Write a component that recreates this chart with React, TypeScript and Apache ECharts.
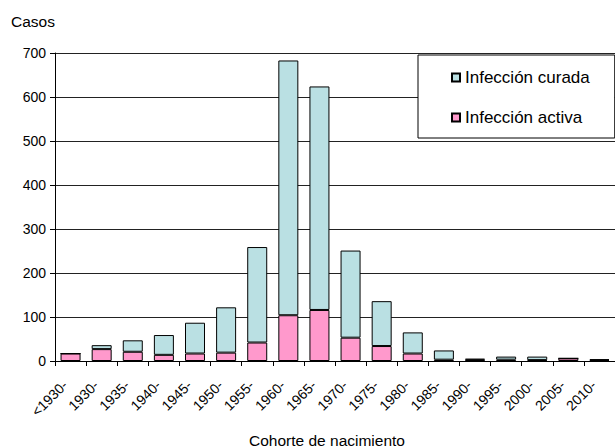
import React, { useEffect, useRef } from "react";
import * as echarts from "echarts";

const categories = ["<1930-", "1930-", "1935-", "1940-", "1945-", "1950-", "1955-", "1960-", "1965-", "1970-", "1975-", "1980-", "1985-", "1990-", "1995-", "2000-", "2005-", "2010-"];
const activa = [17, 27, 21, 14, 17, 19, 42, 104, 116, 53, 34, 17, 3, 3, 3, 2, 6, 2];
const curada = [0, 9, 26, 45, 70, 103, 217, 579, 508, 198, 102, 48, 21, 2, 7, 8, 0, 2];
const yTicks = [0, 100, 200, 300, 400, 500, 600, 700];

const FONT = "'Liberation Sans', Arial, sans-serif";

export default function App() {
  const ref = useRef<HTMLDivElement>(null);
  useEffect(() => {
    if (!ref.current) return;
    const chart = echarts.init(ref.current, null, { renderer: "svg" });
    chart.setOption({
      animation: false,
      backgroundColor: "#fff",
      textStyle: { fontFamily: FONT },
      grid: { left: 55, top: 53, width: 570, height: 308, containLabel: false },
      legend: {
        orient: "vertical",
        left: 418,
        top: 55,
        padding: [14, 25, 12, 33],
        itemWidth: 8,
        itemHeight: 8,
        itemGap: 23,
        icon: "rect",
        backgroundColor: "#fff",
        borderColor: "#000",
        borderWidth: 1,
        borderRadius: 0,
        textStyle: { fontSize: 17, color: "#000", fontFamily: FONT },
        data: ["Infección curada", "Infección activa"],
      },
      xAxis: {
        type: "category",
        data: categories,
        boundaryGap: true,
        axisLine: { show: true, lineStyle: { color: "#000", width: 1 } },
        axisTick: { show: true, alignWithLabel: false, length: 5, lineStyle: { color: "#000" } },
        axisLabel: { rotate: 45, fontSize: 14, color: "#000", margin: 16, padding: [0, 8, 0, 0], interval: 0, fontFamily: FONT },
        splitLine: { show: false },
      },
      yAxis: {
        type: "value",
        min: yTicks[0],
        max: yTicks[yTicks.length - 1],
        interval: 100,
        axisLine: { show: true, lineStyle: { color: "#000", width: 1 } },
        axisTick: { show: true, length: 5, lineStyle: { color: "#000" } },
        axisLabel: { fontSize: 14, color: "#000", margin: 9, fontFamily: FONT },
        splitLine: { show: true, lineStyle: { color: "#222", width: 1 } },
      },
      graphic: [
        { type: "text", left: 11, top: 13, style: { text: "Casos", fontSize: 15.5, fill: "#000", fontFamily: FONT } },
        { type: "text", x: 327, y: 440, style: { text: "Cohorte de nacimiento", fontSize: 15.5, fill: "#000", fontFamily: FONT, align: "center", verticalAlign: "middle" } },
      ],
      series: [
        {
          name: "Infección activa",
          type: "bar",
          stack: "total",
          data: activa,
          barWidth: 20,
          itemStyle: { color: "#FF99CC", borderColor: "#000", borderWidth: 1 },
        },
        {
          name: "Infección curada",
          type: "bar",
          stack: "total",
          data: curada,
          barWidth: 20,
          itemStyle: { color: "#BAE0E3", borderColor: "#000", borderWidth: 1 },
        },
      ],
    });
    return () => chart.dispose();
  }, []);
  return <div ref={ref} style={{ position: "absolute", left: 0, top: 0, width: 615, height: 447 }} />;
}
